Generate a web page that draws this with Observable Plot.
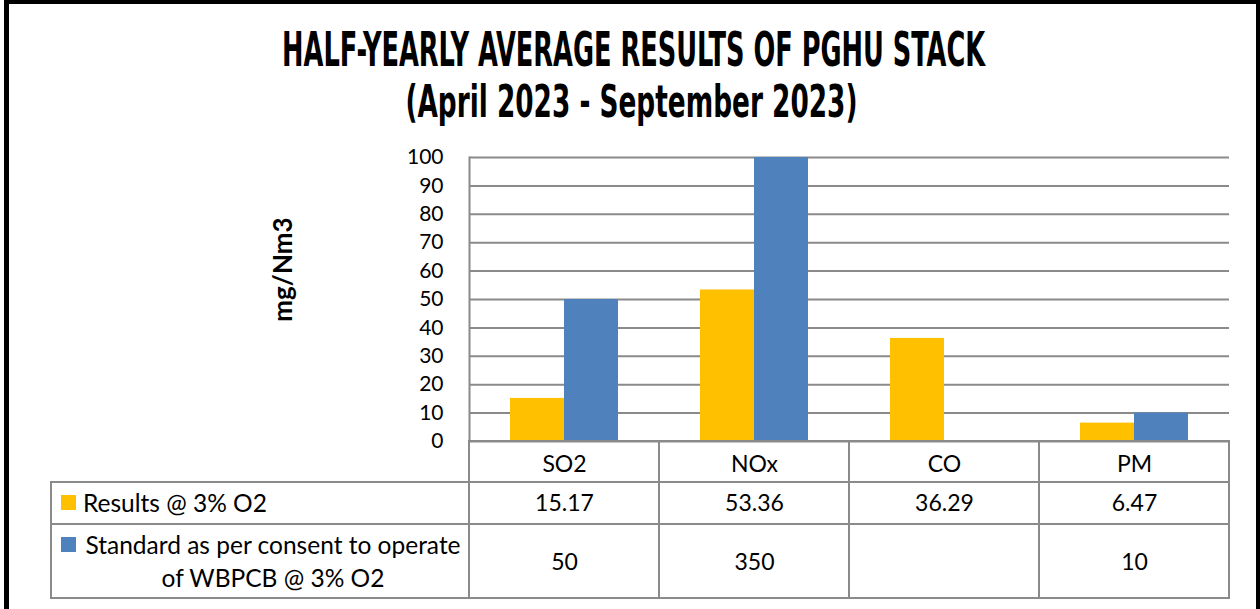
<!DOCTYPE html>
<html>
<head>
<meta charset="utf-8">
<script src="https://cdn.jsdelivr.net/npm/d3@7"></script>
<script src="https://cdn.jsdelivr.net/npm/@observablehq/plot@0.6"></script>
<style>
  html, body { margin: 0; padding: 0; background: #fff; }
  #wrap { position: relative; width: 1260px; height: 609px; overflow: hidden; background: #fff; font-family: Lato, "Open Sans", sans-serif; color: #000; }
  #border { position: absolute; left: 4px; top: 0; width: 1256px; height: 640px; box-sizing: border-box; border-top: 4px solid #000; border-left: 5px solid #000; border-right: 4px solid #000; pointer-events: none; z-index: 5; }
  .title { position: absolute; left: 0; width: 1260px; text-align: center; font-family: "Liberation Sans Narrow", "DejaVu Sans Condensed", sans-serif; font-weight: bold; white-space: nowrap; }
  .title span { display: inline-block; transform-origin: 50% 50%; }
  .hline, .vline { position: absolute; background: #8a8a8a; z-index: 3; }
  .swatch { position: absolute; width: 15px; height: 15px; }
  .legtext { position: absolute; font-size: 24.5px; white-space: nowrap; }
  #chart { position: absolute; left: 0; top: 0; z-index: 2; }
</style>
</head>
<body>
<div id="wrap">
  <div id="border"></div>
  <div id="chart"></div>
</div>
<script>
// ---- data ----
const titleLines = ["HALF-YEARLY AVERAGE RESULTS OF PGHU STACK", "(April 2023 - September 2023)"];
const categories = ["SO2", "NOx", "CO", "PM"];
const results = [15.17, 53.36, 36.29, 6.47];
const standards = [50, 350, null, 10];
const seriesNames = ["Results @ 3% O2", "Standard as per consent to operate", "of WBPCB  @ 3% O2"];
const seriesColors = ["#FFC000", "#4F81BD"];
const yTicks = [0, 10, 20, 30, 40, 50, 60, 70, 80, 90, 100];
const yLabel = "mg/Nm3";

const rows = categories.map((c, i) => ({category: c, result: results[i], standard: standards[i]}));
const gridColor = "#8a8a8a";

const wrap = document.getElementById("wrap");

// ---- title ----
const titleSpecs = [
  {text: titleLines[0], size: 47.5, top: 23, target: 703, shift: 3.5},
  {text: titleLines[1], size: 44.5, top: 77, target: 452, shift: 1}
];
titleSpecs.forEach(s => {
  const div = document.createElement("div");
  div.className = "title";
  div.style.top = s.top + "px";
  div.style.fontSize = s.size + "px";
  div.style.lineHeight = (s.size * 1.117) + "px";
  div.style.left = s.shift + "px";
  const span = document.createElement("span");
  span.textContent = s.text;
  div.appendChild(span);
  wrap.appendChild(div);
  const w = span.getBoundingClientRect().width;
  span.style.transform = `scaleX(${s.target / w})`;
});

// ---- chart ----
const plot = Plot.plot({
  width: 1260,
  height: 609,
  marginTop: 157,
  marginBottom: 168,
  marginLeft: 469,
  marginRight: 31,
  style: {background: "transparent", fontFamily: "Lato, 'Open Sans', sans-serif", fontSize: "21px", color: "#000", overflow: "visible"},
  x: {domain: categories, padding: 0, label: null},
  y: {domain: [0, 100], label: null},
  marks: [
    Plot.gridY(yTicks.filter(t => t > 0), {stroke: gridColor, strokeOpacity: 1, strokeWidth: 2}),
    Plot.barY(rows, {x: "category", y: "result", fill: seriesColors[0], insetLeft: 41, insetRight: 95, clip: true}),
    Plot.barY(rows.filter(d => d.standard != null), {x: "category", y: "standard", fill: seriesColors[1], insetLeft: 95, insetRight: 41, clip: true}),
    Plot.ruleY([0], {stroke: gridColor, strokeWidth: 2}),
    Plot.frame({anchor: "left", stroke: gridColor, strokeWidth: 2}),
    Plot.axisY(yTicks, {tickSize: 0, tickPadding: 26, fontSize: 21, label: null}),
    Plot.axisX(categories, {tickSize: 0, tickPadding: 14, fontSize: 23, label: null}),
    Plot.text(rows, {x: "category", text: d => String(d.result), frameAnchor: "bottom", dy: 69, fontSize: 23}),
    Plot.text(rows, {x: "category", text: d => d.standard == null ? "" : String(d.standard), frameAnchor: "bottom", dy: 128, fontSize: 23}),
    Plot.text([yLabel], {frameAnchor: "left", textAnchor: "middle", lineAnchor: "middle", dx: -186, dy: -30, rotate: -90, fontWeight: "bold", fontSize: 26})
  ]
});
document.getElementById("chart").appendChild(plot);

// ---- data table grid (column edges from the x scale) ----
const xs = plot.scale("x");
const bw = xs.bandwidth;
const lefts = categories.map(c => xs.apply(c));
const edges = [...lefts, lefts[lefts.length - 1] + bw];
const axisY0 = 441, rowTop1 = 482, rowTop2 = 524, tableBottom = 598, tableLeft = 51;
function hline(x1, x2, y) {
  const d = document.createElement("div"); d.className = "hline";
  d.style.left = x1 + "px"; d.style.width = (x2 - x1 + 1) + "px"; d.style.top = (y - 1) + "px"; d.style.height = "2px";
  wrap.appendChild(d);
}
function vline(x, y1, y2) {
  const d = document.createElement("div"); d.className = "vline";
  d.style.left = (x - 1) + "px"; d.style.width = "2px"; d.style.top = y1 + "px"; d.style.height = (y2 - y1) + "px";
  wrap.appendChild(d);
}
const right = edges[edges.length - 1];
hline(tableLeft, right, rowTop1);
hline(tableLeft, right, rowTop2);
hline(tableLeft, right, tableBottom);
hline(edges[0], right, axisY0);
vline(tableLeft, rowTop1 - 1, tableBottom + 1);
edges.forEach(x => vline(x, axisY0 - 1, tableBottom + 1));

// ---- legend column ----
function swatch(color, top) {
  const s = document.createElement("div"); s.className = "swatch";
  s.style.background = color; s.style.left = "61px"; s.style.top = top + "px";
  wrap.appendChild(s);
}
function legText(text, left, centerY, align, width) {
  const t = document.createElement("div"); t.className = "legtext";
  t.textContent = text;
  t.style.lineHeight = "30px";
  t.style.top = (centerY - 15) + "px";
  t.style.left = left + "px";
  if (width) { t.style.width = width + "px"; t.style.textAlign = align; }
  wrap.appendChild(t);
}
swatch(seriesColors[0], 495);
legText(seriesNames[0], 83, 503);
swatch(seriesColors[1], 537);
legText(seriesNames[1], 73, 545, "center", 400);
legText(seriesNames[2], 73, 578, "center", 400);
</script>
</body>
</html>
